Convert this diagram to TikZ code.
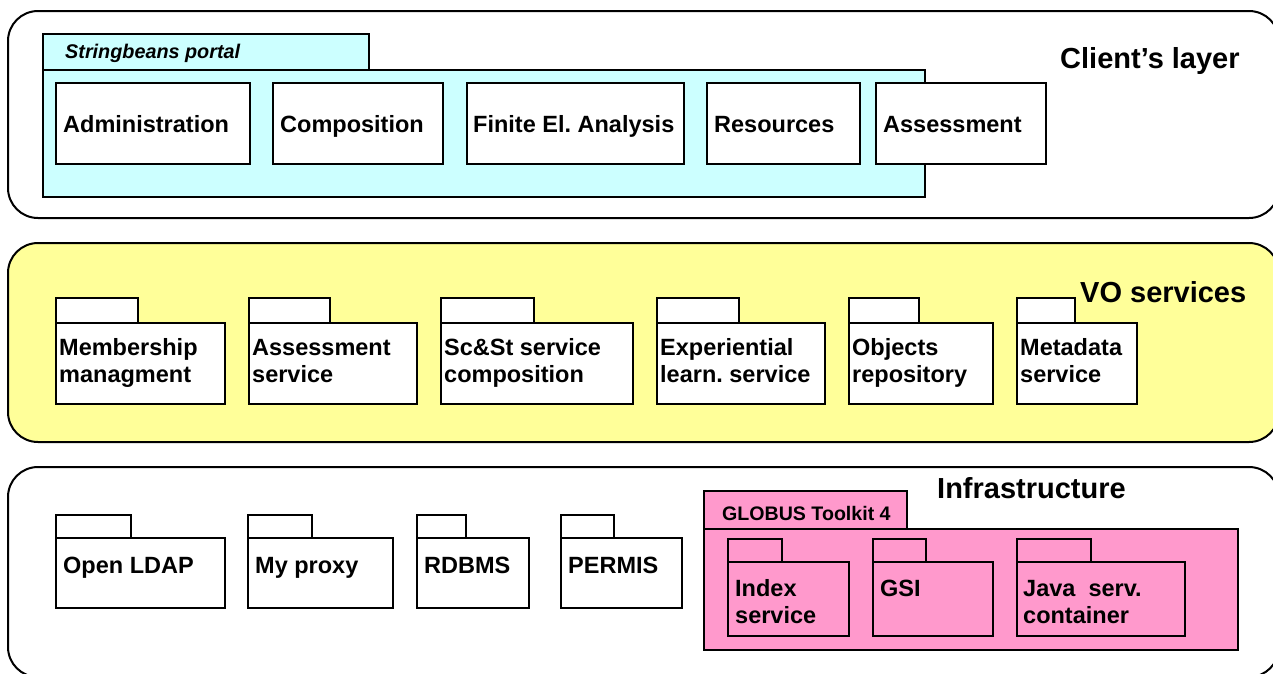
\documentclass[tikz,border=0pt]{standalone}
\usepackage{fontspec}
\setmainfont{Liberation Sans}
\frenchspacing
\definecolor{portalcyan}{HTML}{CCFFFF}
\definecolor{voyellow}{HTML}{FFFF99}
\definecolor{globuspink}{HTML}{FF99CC}
\tikzset{
  layerbox/.style={draw=black, line width=2pt, rounded corners=30pt},
  pkgpart/.style={draw=black, line width=2.5pt},
  boxlabel/.style={anchor=base west, inner sep=0pt, font=\bfseries\fontsize{23.5}{27.5}\selectfont},
  titlelabel/.style={anchor=base west, inner sep=0pt, font=\bfseries\fontsize{29}{33}\selectfont},
  tablabel/.style={anchor=base west, inner sep=0pt, font=\bfseries\fontsize{19.6}{23}\selectfont},
}
% UML package: tab and body
% #1 left, #2 tab right, #3 body right, #4 tab top, #5 body top, #6 bottom, #7 fill
\newcommand{\pkgshape}[7]{%
  \path[pkgpart, fill=#7] (#1,#4) rectangle (#2,#5);
  \path[pkgpart, fill=#7] (#1,#5) rectangle (#3,#6);
}
\newcommand{\twolines}[2]{\begin{tabular}[t]{@{}l@{}}#1\\#2\end{tabular}}
\begin{document}
\begin{tikzpicture}[x=1pt, y=-1pt]
\useasboundingbox (0,0) rectangle (1273,673);
\clip (0,0) rectangle (1273,673);

% ---------- Client's layer ----------
\path[layerbox, fill=white] (8,11) rectangle (1279,218);
\node[titlelabel] (clientTitle) at (1060,68) {Client’s layer};
\path[pkgpart, fill=portalcyan] (43,34) rectangle (369,70);
\path[pkgpart, fill=portalcyan] (43,70) rectangle (925,197);
\node[tablabel, font=\bfseries\itshape\fontsize{19.8}{23}\selectfont] (portal) at (65,58) {Stringbeans portal};
\path[pkgpart, fill=white] (56,83) rectangle (250,164);
\node[boxlabel] (admin) at (63,132) {Administration};
\path[pkgpart, fill=white] (273,83) rectangle (443,164);
\node[boxlabel] (compo) at (280,132) {Composition};
\path[pkgpart, fill=white] (467,83) rectangle (684,164);
\node[boxlabel] (fea) at (473,132) {Finite El. Analysis};
\path[pkgpart, fill=white] (707,83) rectangle (860,164);
\node[boxlabel] (resources) at (714,132) {Resources};
\path[pkgpart, fill=white] (876,83) rectangle (1046,164);
\node[boxlabel] (assessment) at (883,132) {Assessment};

% ---------- VO services ----------
\path[layerbox, fill=voyellow] (8,243) rectangle (1279,442);
\node[titlelabel] (voTitle) at (1080,302) {VO services};
\pkgshape{56}{138}{225}{298}{323}{404}{white}
\node[boxlabel] (member) at (59,355) {\twolines{Membership}{managment}};
\pkgshape{249}{330}{417}{298}{323}{404}{white}
\node[boxlabel] (assessserv) at (252,355) {\twolines{Assessment}{service}};
\pkgshape{441}{534}{633}{298}{323}{404}{white}
\node[boxlabel] (scst) at (444,355) {\twolines{Sc\&St service}{composition}};
\pkgshape{657}{739}{825}{298}{323}{404}{white}
\node[boxlabel] (exper) at (660,355) {\twolines{Experiential}{learn. service}};
\pkgshape{849}{919}{993}{298}{323}{404}{white}
\node[boxlabel] (objects) at (852,355) {\twolines{Objects}{repository}};
\pkgshape{1017}{1075}{1137}{298}{323}{404}{white}
\node[boxlabel] (metadata) at (1020,355) {\twolines{Metadata}{service}};

% ---------- Infrastructure ----------
\path[layerbox, fill=white] (8,467) rectangle (1279,677);
\node[titlelabel] (infraTitle) at (937,498) {Infrastructure};
\pkgshape{56}{131}{225}{515}{538}{608}{white}
\node[boxlabel] (ldap) at (63,573) {Open LDAP};
\pkgshape{248}{312}{393}{515}{538}{608}{white}
\node[boxlabel] (myproxy) at (255,573) {My proxy};
\pkgshape{417}{466}{529}{515}{538}{608}{white}
\node[boxlabel] (rdbms) at (424,573) {RDBMS};
\pkgshape{561}{614}{682}{515}{538}{608}{white}
\node[boxlabel] (permis) at (568,573) {PERMIS};

\pkgshape{704}{907}{1238}{491}{529}{650}{globuspink}
\node[tablabel] (globus) at (722,520) {GLOBUS Toolkit 4};
\pkgshape{728}{782}{849}{539}{562}{636}{globuspink}
\node[boxlabel] (index) at (735,596) {\twolines{Index}{service}};
\pkgshape{873}{926}{993}{539}{562}{636}{globuspink}
\node[boxlabel] (gsi) at (880,596) {GSI};
\pkgshape{1017}{1091}{1185}{539}{562}{636}{globuspink}
\node[boxlabel] (javacont) at (1023,596) {\twolines{Java\ \ serv.}{container}};
\end{tikzpicture}
\end{document}
